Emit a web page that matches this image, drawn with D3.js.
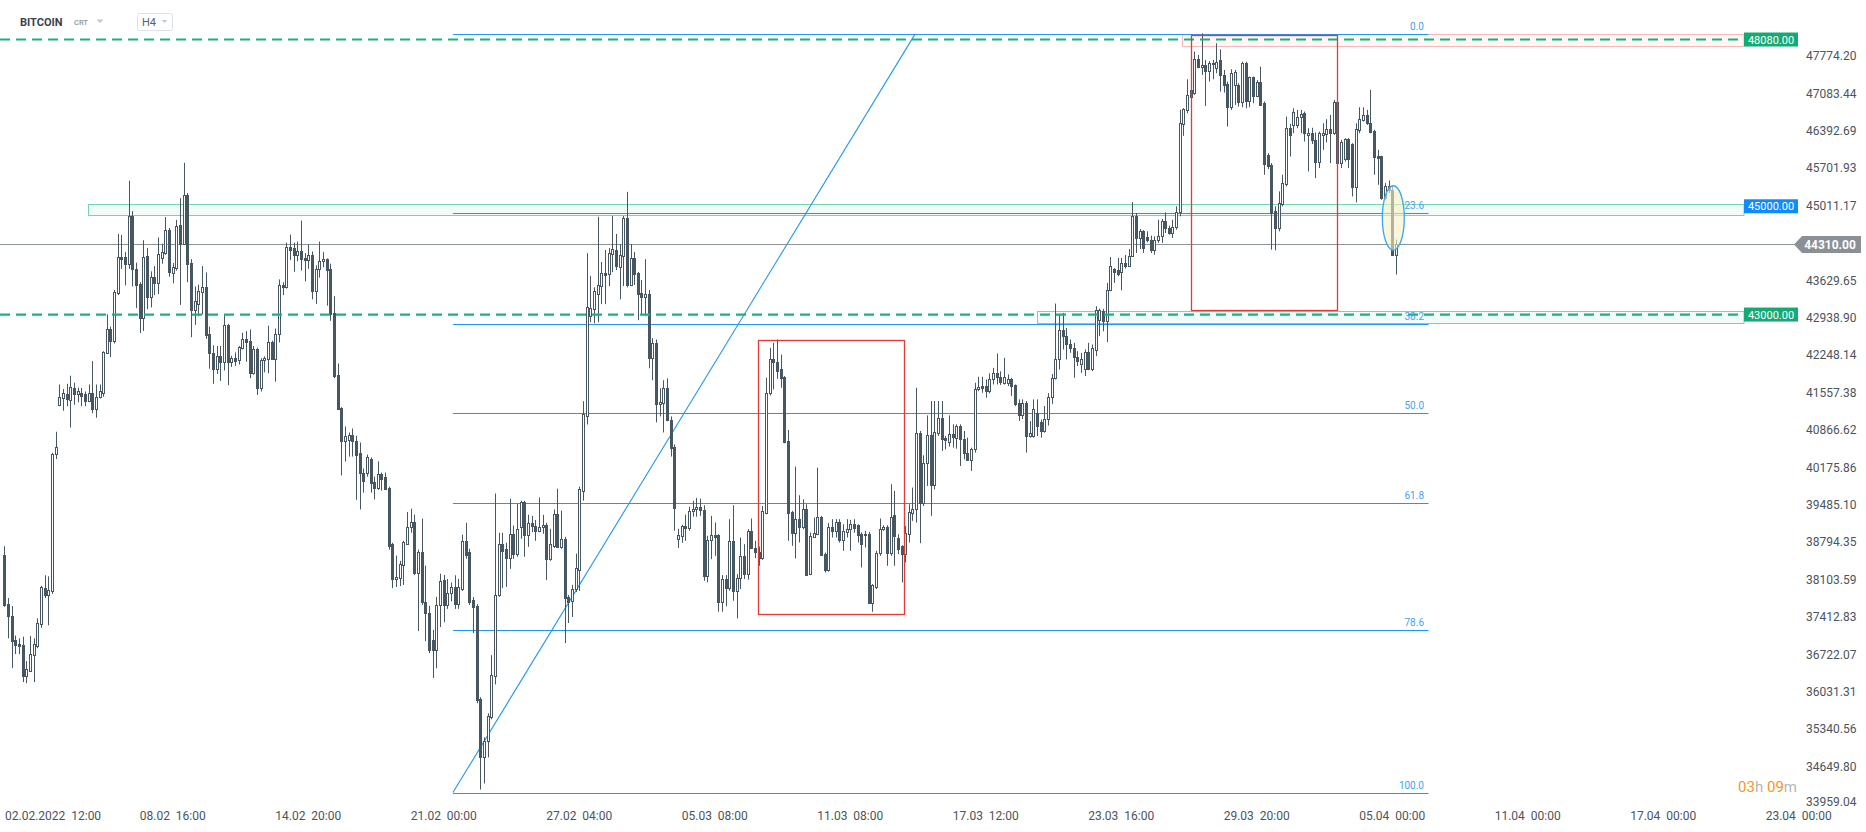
<!DOCTYPE html>
<html><head><meta charset="utf-8">
<script src="https://cdn.jsdelivr.net/npm/d3@7"></script>
<style>
html,body{margin:0;padding:0;background:#fff;overflow:hidden;}
svg{display:block;font-family:Roboto,"Noto Sans",sans-serif;}
</style></head><body>
<svg id="chart" width="1866" height="832"></svg>
<script>
// ---------- DATA (H4 candles, BITCOIN) ----------
const opens = [
38552,37647,37440,36987,36922,36890,36320,36424,36715,36870,
37278,37957,37828,37893,40415,41333,41462,41533,41430,41644,
41534,41559,41527,41404,41559,41256,41482,41559,42290,42730,
42517,43390,44069,44069,43927,44813,43843,43571,42937,44089,
43325,43701,43584,44040,44134,44561,43766,43862,44651,44309,
45214,43959,43080,43196,43422,43506,42646,42290,41999,42239,
42129,42808,42129,42193,42161,42388,42549,42517,41915,42355,
41644,42161,42174,42498,42174,42646,43552,43507,44244,44231,
44102,44166,44050,44005,44102,43429,43843,43985,44024,43843,
43034,41889,41269,40673,
40688,40769,40673,40436,40081,40081,40325,39910,39799,40059,
39992,39799,38762,38117,38139,38376,38762,39080,39177,38228,
38621,37695,37487,36983,36806,37636,38095,37636,37858,37962,
37650,37932,38821,38614,37725,37621,35894,34820,35131,35561,
36317,37821,38762,38673,38510,38954,38584,39080,39540,38932,
39154,39100,39006,39080,39117,38488,38732,39317,38710,38858,
37784,37710,37932,38288,39747,41133,42970,43103,43377,43525,
43770,43748,44118,44192,43874,44081,44785,43548,44044,43770,
43400,43325,43377,42192,42466,41340,41370,41637,41059,40562,
38850,38910,39102,39058,39377,39414,
39451,39392,38175,38838,38925,38925,37695,38113,37941,38814,
37898,38125,38543,38205,39004,38697,38623,38494,39343,41555,
42170,42121,41986,41850,40664,39355,38961,39232,39084,39404,
38205,38900,38943,39269,38586,38279,39084,39004,39176,38838,
38992,39035,39127,39108,38943,38943,38943,37670,37959,38592,
39035,39084,38604,39293,38881,38728,38574,38955,39330,39404,
40818,39527,40265,40769,39852,40818,41082,40714,40646,40787,
40726,40941,40695,40449,40314,40511,41617,41678,41678,41586,
41802,41925,41851,41728,41728,41814,41691,41371,41137,41371,
40756,40756,41186,41015,40849,
41063,41480,
41832,42170,42723,42612,42447,42385,42219,42078,41999,42306,
41985,42354,42908,43074,42877,43449,43842,43818,43787,43953,
43900,44088,44814,44414,44537,44432,44383,44199,44383,44445,
44721,44598,44506,44617,44887,46522,46780,47027,47100,47715,
47567,47610,47506,47641,47549,47702,47426,47260,46829,47242,
47242,46934,47653,46952,47383,47039,47303,46916,45950,45766,
44906,44598,45047,45416,46442,46503,46503,46645,46719,46319,
46362,46227,45809,46319,46338,46424,46350,46934,45797,45870,
46240,46153,45354,46411,46596,46688,46534,46393,45932,45920,
45151,45367,45305,44106
];
const highs = [
38720,37763,37615,37071,37020,37051,36599,37064,37020,37388,
37990,38184,38164,40447,40835,41708,41624,41721,41870,41740,
41650,41644,41579,41708,42142,41708,41708,42323,43002,42776,
43455,44490,44470,44153,45473,44910,43959,43597,44373,44231,
43798,43895,44425,44309,44800,44600,43953,44748,45149,45803,
45246,44024,43519,43552,43895,43778,42776,42433,42420,42420,
43002,42827,42239,42300,42420,42666,42692,42724,42420,42388,
42193,42226,42795,42517,42743,43649,43597,44328,44477,44328,
44347,44735,44134,44296,44166,43908,44347,44153,44037,43940,
43338,42096,41288,40933,
40821,40895,40760,40636,40155,40414,40362,40007,40288,40081,
40081,39821,38784,38547,38451,38821,39354,39414,39303,38658,
39229,38362,37621,37176,37784,38213,38191,38117,38050,38184,
38117,38932,39154,38673,37784,37650,35931,35190,35635,36709,
39695,38969,38969,38784,39599,39103,39503,39562,39560,39303,
39280,39206,39622,39300,39154,39043,39399,39784,39377,38895,
37821,38006,38584,39821,41400,44133,43711,43503,44807,43970,
44192,44229,44822,44489,44303,44822,45267,44304,44155,43785,
43637,44022,43452,42563,42540,41637,41785,41822,41118,40600,
39043,39117,39303,39451,39562,39614,
39600,39477,38912,39281,39158,38943,38187,38187,39220,39478,
38205,38881,38758,39035,39232,38820,38715,39465,41832,42385,
42477,42539,42262,41863,40867,39373,40191,39662,39588,39496,
38974,39250,40172,39281,38604,39150,39220,39220,39220,39127,
39220,39207,39220,39127,38974,39004,38986,38021,38635,39232,
39108,39108,39865,39742,38943,38740,39097,39496,39804,41648,
40849,40400,41137,41402,41402,41402,41402,40756,41137,40972,
40972,40972,40849,40726,40541,41740,41851,41851,41801,41912,
42016,42281,41950,42201,41894,41832,41709,41432,41432,41402,
41033,41432,41432,41063,41309,
41550,41900,
43203,43000,43030,42754,42539,42477,42324,42293,42354,42477,
42447,43154,43111,43105,43584,44063,43860,44045,44045,44100,
44211,45078,44875,44580,44560,44537,44457,44445,44752,44764,
44887,44641,44752,44998,46780,46811,47346,47610,47856,47795,
48194,47702,47680,47702,48010,47899,47518,47303,47530,47518,
47272,47671,47671,47395,47395,47334,47579,46934,45981,45797,
44998,45275,45582,46657,46522,46811,46780,46780,46750,46442,
46450,46362,46380,46534,46608,46688,46965,47407,46227,46258,
46258,46166,46534,46829,46829,46780,47150,46411,46043,45932,
45428,45477,45367,44383
];
const lows = [
37601,37019,36470,36728,36728,36211,36191,36404,36211,36838,
37213,37763,37259,37841,40331,41307,41223,41307,40913,41333,
41380,41307,41307,41385,41178,41094,41450,41482,42271,42213,
42465,43358,43843,43539,43843,43520,43119,42659,42698,43099,
43131,43358,43377,43940,44102,43700,43578,43811,43177,44296,
43597,42582,42808,42970,43002,42549,41999,41721,41903,41773,
41967,41695,42032,42050,42077,42355,42129,41825,41889,41514,
41579,41934,41915,42161,41760,42485,43358,43480,44005,43791,
43985,43811,43616,43843,43280,43196,43681,43875,43164,42885,
41825,41243,40027,40285,
40377,40377,39577,39399,39710,40007,39710,39584,39762,39747,
39769,38658,37947,37969,37984,38006,38747,38969,38191,37154,
37636,36969,36746,36287,36465,37228,37317,37562,37700,37562,
37562,37895,38488,37636,37117,35820,34227,34338,34820,35524,
36168,37784,37947,37969,38302,38488,38525,38858,38525,38710,
38980,38821,38980,38950,38095,38451,38688,38688,38673,36931,
37302,37413,37873,37895,39562,40970,42859,42837,42859,43192,
43192,43526,43785,43822,43281,43526,43503,43526,43548,42896,
43007,42970,42007,41785,41007,41118,40822,41029,40377,39007,
38688,38784,38821,39006,39266,39266,
39281,38082,38052,38482,38543,37511,37511,37609,37898,37714,
37388,37929,38113,38101,38678,38500,38359,38469,39312,41506,
41617,41814,41647,40621,38820,38728,38494,38789,39035,38174,
38187,38881,38925,38543,38236,38250,38881,38881,38789,38635,
38881,38635,38973,38789,38328,38697,37652,37511,37929,38543,
39004,38359,38543,38359,38574,38052,38420,38789,39189,39158,
38777,39465,39834,39281,39773,40756,40480,40511,40560,40542,
40523,40203,40326,40295,40111,40449,41586,41555,41463,41543,
41709,41709,41700,41709,41678,41494,41309,41033,41070,40449,
40726,40726,40756,40726,40818,
40950,41350,
41801,41985,42354,42170,42293,41832,42047,41924,41863,41973,
41955,42231,42600,42692,42490,43430,43584,43707,43449,43850,
43880,44063,44137,44211,44137,44334,44137,44106,44322,44322,
44506,44475,44414,44568,44814,46301,46719,46719,47057,47549,
47426,46854,47303,47346,47457,47118,47100,46473,46780,46872,
46842,46829,46811,46829,46903,47014,46854,45582,45686,44199,
44186,44537,45000,45367,45920,46350,46442,46350,46196,45643,
46150,45520,45705,46043,46178,45797,46319,45735,45705,45827,
45705,45182,45072,46350,46565,46503,46350,45582,45397,45121,
45121,45244,44080,43738
];
const closes = [
37634,37440,36968,36903,36870,36320,36450,36728,36910,37297,
37970,37828,37906,40415,40557,41482,41559,41437,41663,41534,
41580,41495,41404,41546,41256,41482,41579,42310,42730,42517,
43422,44069,44017,43927,44813,43843,43552,42937,44069,43325,
43701,43584,44115,44153,44561,43778,43875,44632,44309,45201,
43927,43080,43241,43435,43506,42627,42290,41999,42239,42129,
42808,42129,42193,42150,42401,42549,42485,41915,42355,41644,
42161,42200,42485,42174,42646,43552,43507,44244,44199,44102,
44179,44024,44005,44102,43429,43843,43985,44024,43824,43002,
41870,41256,40673,40751,
40769,40673,40414,40066,39932,40362,39895,39799,40059,39970,
39784,38732,38117,38154,38391,38799,39080,39177,38228,38621,
37695,37487,36806,36806,37636,38080,37636,37858,37962,37650,
37969,38821,38562,37695,37599,35872,34820,35131,35576,36339,
37821,38762,38636,38510,38954,38584,39043,39540,38932,39154,
39100,39006,39080,39117,38488,38762,39317,38710,38858,37762,
37695,37932,38317,39784,41155,43133,43118,43429,43547,43770,
43725,44141,44215,43896,44104,44785,43548,44044,43748,43377,
43325,43377,42192,42466,41340,41377,41637,41044,40540,39429,
38932,39102,39058,39377,39414,39451,
39392,38175,38838,38925,38900,37695,38113,37941,38814,37898,
38125,38543,38205,39004,38697,38623,38494,39373,41555,42170,
42121,41955,41832,40646,39330,38961,39232,39084,39404,38187,
38912,38974,39269,38556,38279,39084,39004,39176,38838,39004,
39047,39127,39053,38925,38758,38925,37670,38002,38604,39047,
39084,38604,39269,38912,38678,38574,38974,39355,39416,40818,
39527,40265,40769,39852,40836,41094,40695,40683,40787,40738,
40941,40695,40449,40314,40511,41617,41666,41648,41586,41814,
41925,41851,41760,41851,41814,41678,41340,41137,41371,40756,
40818,41260,40941,40849,41063,
41480,41832,
42170,42723,42612,42447,42385,42219,42139,42170,42306,41985,
42385,43092,43080,42877,43449,43904,43787,43756,43953,43900,
44088,44814,44414,44537,44229,44383,44199,44383,44445,44721,
44598,44506,44617,44887,46534,46792,47057,47150,47715,47579,
47610,47506,47641,47653,47671,47426,47242,46829,47469,47487,
46934,47653,46952,47383,47039,47303,46873,45785,45735,44875,
44598,45059,45428,46442,46319,46750,46657,46706,46350,46362,
46227,45809,46350,46350,46424,46350,46934,45797,46196,46240,
45870,45354,46424,46608,46688,46534,46380,45907,45889,45151,
45367,45293,44106,44310
];
// time axis: one label every 37 H4 bars, first label at bar 9
const timeLabels = ["02.02.2022  12:00","08.02  16:00","14.02  20:00","21.02  00:00","27.02  04:00","05.03  08:00","11.03  08:00","17.03  12:00","23.03  16:00","29.03  20:00","05.04  00:00","11.04  00:00","17.04  00:00","23.04  00:00"];
const labelFirstBar = 9, labelStepBars = 37;
const priceTicks = [47774.20,47083.44,46392.69,45701.93,45011.17,43629.65,42938.90,42248.14,41557.38,40866.62,40175.86,39485.10,38794.35,38103.59,37412.83,36722.07,36031.31,35340.56,34649.80,33959.04];
const currentPrice = 44310;
// drawings (anchored in bar index / price)
const fibRatios = [0, 0.236, 0.382, 0.5, 0.618, 0.786, 1];
const fibNames  = ["0.0","23.6","38.2","50.0","61.8","78.6","100.0"];
const fibHigh = 48180, fibLow = 34170, fibStartBar = 122.5, fibEndBar = 388.9, fibTrendTopBar = 248.7;
const zoneBoxes = [ // [fromBar, topPrice, bottomPrice, kind]
  [22.9, 45047, 44838, "green"],
  [282.0, 43066, 42847, "green"],
  [321.7, 48176, 47955, "pink"]
];
const levelTags = [[48080,"48080.00","green",true],[45000,"45000.00","blue",false],[43000,"43000.00","green",true]];
const redBoxes = [[205.7, 245.8, 42539, 37468],[324.0, 364.0, 48160, 43092]];
const ellipseMark = [379.3, 44783, 3.0, 596];

// ---------- SCALES ----------
const W = 1866, H = 832;
const n = Math.min(opens.length, highs.length, lows.length, closes.length);
const candles = d3.range(n).map(i => ({i, o:opens[i], h:highs[i], l:lows[i], c:closes[i]}));
const x = d3.scaleLinear().domain([0, 490]).range([4.3, 1798.7]);
const y = d3.scaleLinear().domain([48810, 33442]).range([0, 832]);
const svg = d3.select("#chart");
const tagX = 1744, tagW = 54;

const CANDLE = "#475761";
const FIB = "#2196f3";
const GREEN = "#17b27e";

// zone boxes (behind)
const gz = svg.append("g");
zoneBoxes.forEach(b => {
  const x0 = Math.round(x(b[0])) + 0.5, y0 = Math.round(y(b[1])) + 0.5, y1 = Math.round(y(b[2])) + 0.5;
  gz.append("rect").attr("x", x0).attr("y", y0).attr("width", tagX - x0).attr("height", y1 - y0)
    .attr("fill", b[3] === "pink" ? "#fff6f6" : "#f3fbf8")
    .attr("stroke", b[3] === "pink" ? "#f6b9b9" : "#74d6ae").attr("stroke-width", 1);
});

// fibonacci
const gf = svg.append("g");
const fibPrice = r => fibHigh - r * (fibHigh - fibLow);
fibRatios.forEach(r => {
  const yy = Math.round(y(fibPrice(r))) + 0.5;
  gf.append("line").attr("x1", x(fibStartBar)).attr("x2", x(fibEndBar)).attr("y1", yy).attr("y2", yy)
    .attr("stroke", FIB).attr("stroke-width", 1.2);
});
gf.append("line").attr("x1", x(fibStartBar)).attr("y1", y(fibLow)).attr("x2", x(fibTrendTopBar)).attr("y2", y(fibHigh))
  .attr("stroke", FIB).attr("stroke-width", 1.1);

// current price line
const yc = Math.round(y(currentPrice)) + 0.5;
svg.append("line").attr("x1", 0).attr("x2", 1796).attr("y1", yc).attr("y2", yc).attr("stroke", "#8c949a").attr("stroke-width", 1.2);

// candles
const gc = svg.append("g");
const cx = d => Math.round(x(d.i)) + 0.5;
gc.selectAll("line.w").data(candles).join("line").attr("class","w")
  .attr("x1", cx).attr("x2", cx).attr("y1", d => y(d.h)).attr("y2", d => y(d.l))
  .attr("stroke", CANDLE).attr("stroke-width", 1);
gc.selectAll("rect.b").data(candles).join("rect").attr("class","b")
  .attr("x", d => cx(d) - 1).attr("width", 2)
  .attr("y", d => Math.round(y(Math.max(d.o, d.c))) + 0.5)
  .attr("height", d => Math.max(1, Math.round(y(Math.min(d.o, d.c))) - Math.round(y(Math.max(d.o, d.c)))))
  .attr("fill", d => d.c >= d.o ? "#ffffff" : CANDLE)
  .attr("stroke", CANDLE).attr("stroke-width", 1);

// dashed horizontal levels
levelTags.filter(t => t[3]).forEach(t => {
  svg.append("line").attr("x1", 0).attr("x2", tagX).attr("y1", y(t[0])).attr("y2", y(t[0]))
    .attr("stroke", GREEN).attr("stroke-width", 2.2).attr("stroke-dasharray", "10,6");
});

// red rectangles
redBoxes.forEach(b => {
  const x0 = Math.round(x(b[0])) + 0.5, x1 = Math.round(x(b[1])) + 0.5;
  const y0 = Math.round(y(b[2])) + 0.5, y1 = Math.round(y(b[3])) + 0.5;
  svg.append("rect").attr("x", x0).attr("y", y0).attr("width", x1 - x0).attr("height", y1 - y0)
    .attr("fill", "none").attr("stroke", "#e53935").attr("stroke-width", 1.3);
});

// ellipse
svg.append("ellipse").attr("cx", x(ellipseMark[0])).attr("cy", y(ellipseMark[1]))
  .attr("rx", x(ellipseMark[2]) - x(0)).attr("ry", y(ellipseMark[1] - ellipseMark[3]) - y(ellipseMark[1]))
  .attr("fill", "rgba(247,240,196,0.6)").attr("stroke", "#35a7f2").attr("stroke-width", 1.3);

// fib labels
fibRatios.forEach((r, k) => {
  svg.append("text").attr("x", 1424).attr("y", y(fibPrice(r)) - 4).attr("text-anchor", "end")
    .attr("font-size", 10).attr("fill", "#43a3f3").text(fibNames[k]);
});

// level tags
levelTags.forEach(t => {
  const yy = y(t[0]);
  svg.append("rect").attr("x", tagX).attr("y", yy - 7).attr("width", tagW).attr("height", 14)
    .attr("fill", t[2] === "blue" ? "#0f8bff" : "#14aa73");
  svg.append("text").attr("x", tagX + tagW / 2).attr("y", yy + 4).attr("text-anchor", "middle")
    .attr("font-size", 11).attr("fill", "#fff").text(t[1]);
});

// price axis
const ga = svg.append("g");
priceTicks.forEach(v => {
  ga.append("text").attr("x", 1806).attr("y", Math.min(805.5, y(v) + 4.2)).attr("font-size", 12).attr("fill", "#4c545c").text(v.toFixed(2));
});
// current price tag
svg.append("path").attr("d", `M1794,${yc} L1802,${yc-8.5} L1861,${yc-8.5} L1861,${yc+8.5} L1802,${yc+8.5} Z`).attr("fill", "#8a9095");
svg.append("text").attr("x", 1830).attr("y", yc + 4.3).attr("text-anchor", "middle").attr("font-size", 12)
  .attr("font-weight", "bold").attr("fill", "#fff").text(currentPrice.toFixed(2));

// time axis
timeLabels.forEach((t, k) => {
  const tx = svg.append("text").attr("x", x(labelFirstBar + k * labelStepBars)).attr("y", 819.5)
    .attr("text-anchor", "middle").attr("font-size", 12).attr("fill", "#4c545c")
    .style("white-space", "pre").text(t.replace("  ", "\u00a0\u00a0"));
  const bb = tx.node().getBBox();
  if (bb.x < 5) tx.attr("text-anchor", "start").attr("x", 5);
});

// countdown
const cd = svg.append("text").attr("x", 1797).attr("y", 792).attr("text-anchor", "end").attr("font-size", 15);
cd.append("tspan").attr("fill", "#f5961f").text("03");
cd.append("tspan").attr("fill", "#b3b8bd").text("h\u00a0");
cd.append("tspan").attr("fill", "#f5961f").text("09");
cd.append("tspan").attr("fill", "#b3b8bd").text("m");

// header
svg.append("text").attr("x", 20).attr("y", 26).attr("font-size", 11).attr("font-weight", "bold").attr("fill", "#37414b").text("BITCOIN");
svg.append("text").attr("x", 74).attr("y", 25).attr("font-size", 7.5).attr("font-weight", 500).attr("fill", "#8d98a3").text("CRT");
svg.append("path").attr("d", "M96.5,19.5 L103.5,19.5 L100,23 Z").attr("fill", "#c3c9cf");
svg.append("rect").attr("x", 137.5).attr("y", 13.5).attr("width", 35).attr("height", 17).attr("rx", 2)
  .attr("fill", "#fff").attr("stroke", "#dde1e5");
svg.append("text").attr("x", 142).attr("y", 26).attr("font-size", 11).attr("fill", "#55606a").text("H4");
svg.append("path").attr("d", "M161.5,20 L167.5,20 L164.5,23 Z").attr("fill", "#c3c9cf");
</script>
</body></html>
